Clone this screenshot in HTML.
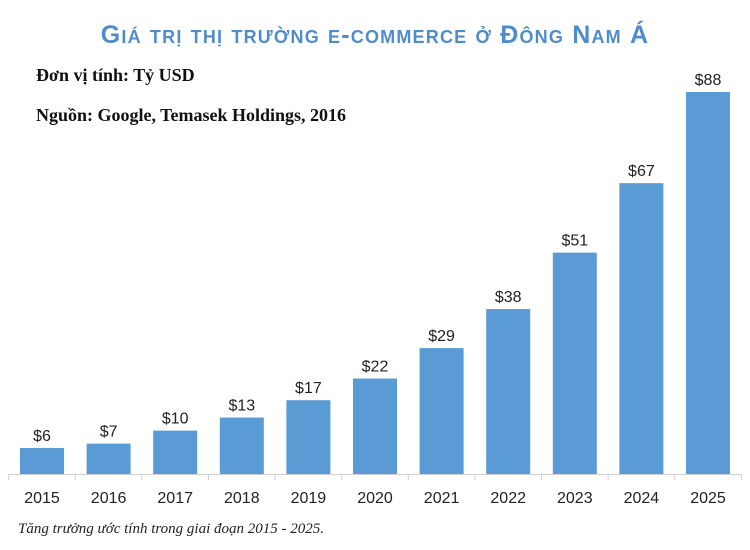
<!DOCTYPE html>
<html><head><meta charset="utf-8"><style>
body{margin:0;width:750px;height:550px;background:#fff;overflow:hidden;position:relative;font-family:"Liberation Sans",sans-serif}
.title{position:absolute;left:0;width:750px;top:20px;text-align:center;color:#4f8ccb;font-weight:bold;font-variant:small-caps;font-size:25px;letter-spacing:1.2px;line-height:30px}
.sub{position:absolute;left:36px;font-family:"Liberation Serif",serif;font-weight:bold;font-size:18px;color:#111}
.foot{position:absolute;left:18px;top:521px;font-family:"Liberation Serif",serif;font-style:italic;font-size:15px;color:#222}
</style></head><body>
<div class="title">Giá trị thị trường e-commerce ở Đông Nam Á</div>
<div class="sub" style="top:65px">Đơn vị tính: Tỷ USD</div>
<div class="sub" style="top:105px">Nguồn: Google, Temasek Holdings, 2016</div>
<svg id="chart" width="750" height="550" style="position:absolute;left:0;top:0"></svg>
<div class="foot">Tăng trưởng ước tính trong giai đoạn 2015 - 2025.</div>
<script>
const categories=["2015","2016","2017","2018","2019","2020","2021","2022","2023","2024","2025"];
const values=[6,7,10,13,17,22,29,38,51,67,88];
const valueLabels=["$6","$7","$10","$13","$17","$22","$29","$38","$51","$67","$88"];
const svg=document.getElementById('chart');
const NS="http://www.w3.org/2000/svg";
const x0=8.7,step=66.6,barW=44,baseY=474,scale=382/88;
const xPos=i=>x0+step*i+step/2;
const yPos=v=>baseY-v*scale;
function mk(t,a){const e=document.createElementNS(NS,t);for(const k in a)e.setAttribute(k,a[k]);svg.appendChild(e);return e;}
const ax=mk('line',{x1:x0,x2:x0+step*categories.length,y1:baseY+0.5,y2:baseY+0.5,stroke:'#d0d0d0','stroke-width':1});


for(let i=0;i<=categories.length;i++){
 const t=mk('line',{x1:x0+step*i,x2:x0+step*i,y1:baseY,y2:baseY+6,stroke:'#d0d0d0'});
 
 
}
categories.forEach((c,i)=>{
 const cx=xPos(i),y=yPos(values[i]);
 const r=mk('rect',{x:cx-barW/2,y:y,width:barW,height:baseY-y,fill:'#5b9bd5'});
 
 
 const l=mk('text',{x:cx,y:y-7,'text-anchor':'middle','font-size':16,fill:'#222','font-family':'Liberation Sans, sans-serif'});
 l.textContent=valueLabels[i];
 
 
 const tl=mk('text',{x:cx,y:503,'text-anchor':'middle','font-size':16,fill:'#222','font-family':'Liberation Sans, sans-serif'});
 tl.textContent=c;
 
 
});
</script>
</body></html>
